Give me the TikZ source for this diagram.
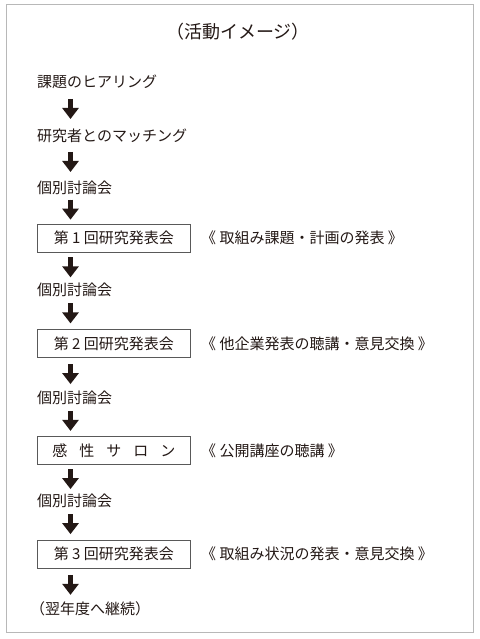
\documentclass[tikz,border=0pt]{standalone}
\usepackage{fontspec}
\setmainfont{Noto Sans CJK JP}
\usetikzlibrary{calc,arrows.meta}
\definecolor{ink}{HTML}{231815}
\begin{document}
\begin{tikzpicture}[x=1pt,y=-1pt,
  txt/.style={anchor=west, inner sep=0pt, text height=13.2pt, text depth=1.8pt,
    font=\fontsize{15pt}{18pt}\selectfont, text=ink},
  titletxt/.style={anchor=center, inner sep=0pt, text height=15.8pt, text depth=2.2pt,
    font=\fontsize{18pt}{21pt}\selectfont, text=ink},
  stepbox/.style={txt, draw=black!65, line width=0.8pt, minimum width=153pt,
    minimum height=28pt, align=center},
  bigarrow/.style={draw=ink, fill=ink, line width=5pt,
    -{Triangle[width=16pt,length=11pt]}},
  framec/.style={draw=black!28, line width=1pt}
]
\useasboundingbox (0,0) rectangle (479,639);
\draw[framec] (6,5) rectangle (473,632);
\coordinate (ax) at (70.5,0);
\node[titletxt] (title) at (238,32) {（活動イメージ）};
\node[txt] (t1) at (37,82) {課題のヒアリング};
\node[txt] (t2) at (37,136) {研究者とのマッチング};
\node[txt] (t3) at (37,188) {個別討論会};
\node[stepbox] (b1) at (37,238) {第 1 回研究発表会};
\node[txt] (l1) at (201,238) {《 取組み課題・計画の発表 》};
\node[txt] (t4) at (37,290) {個別討論会};
\node[stepbox] (b2) at (37,343.5) {第 2 回研究発表会};
\node[txt] (l2) at (201,343.5) {《 他企業発表の聴講・意見交換 》};
\node[txt] (t5) at (37,398) {個別討論会};
\node[stepbox] (b3) at (37,450.5) {感\hspace{12pt}性\hspace{12pt}サ\hspace{12pt}ロ\hspace{12pt}ン};
\node[txt] (l3) at (201,450.5) {《 公開講座の聴講 》};
\node[txt] (t6) at (37,501) {個別討論会};
\node[stepbox] (b4) at (37,554) {第 3 回研究発表会};
\node[txt] (l4) at (201,554) {《 取組み状況の発表・意見交換 》};
\node[txt] (t7) at (30,609) {（翌年度へ継続）};
\foreach \a/\b in {t1/t2,t2/t3,t3/b1,b1/t4,t4/b2,b2/t5,t5/b3,b3/t6,t6/b4,b4/t7}
  \draw[bigarrow] ($(\a.south -| ax)!0.5!(\b.north -| ax)+(0,-10)$) -- ++(0,20);
\end{tikzpicture}
\end{document}
